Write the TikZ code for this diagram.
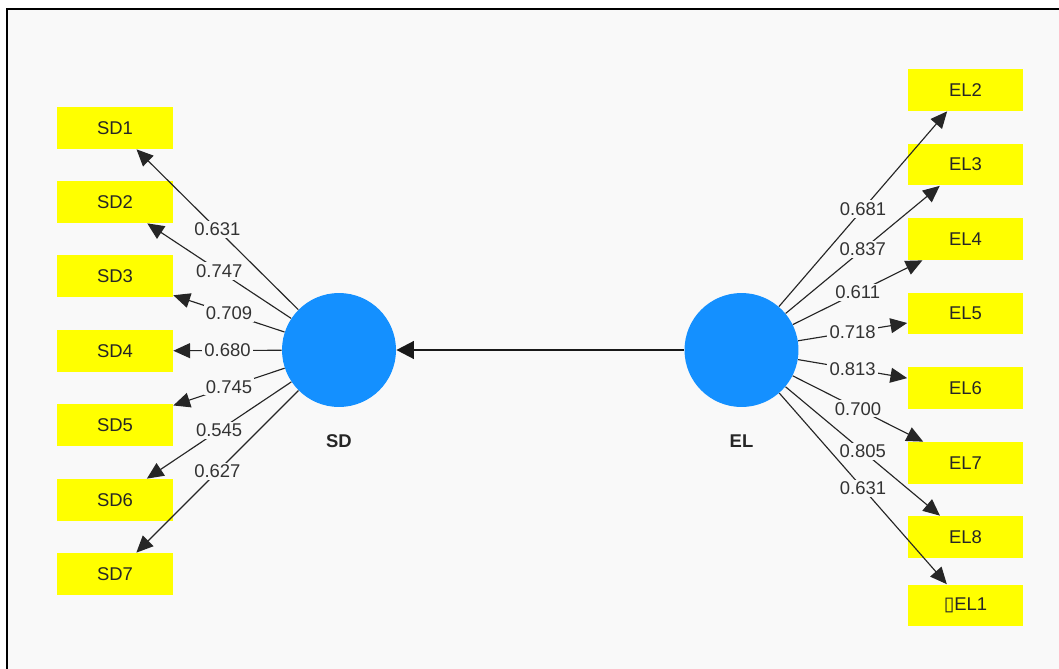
\documentclass[tikz,border=0pt]{standalone}
\usepackage{fontspec}
\setmainfont{Liberation Sans}
\newfontfamily\symbfont{DejaVu Sans}
\usetikzlibrary{arrows.meta}
\definecolor{canvas}{HTML}{F9F9F9}
\definecolor{lvblue}{HTML}{1490FF}
\definecolor{mvyellow}{HTML}{FFFF00}
\tikzset{
  indicator/.style={fill=mvyellow, minimum width=2.32cm, minimum height=0.84cm, inner sep=0pt,
    text=black!85, font=\fontsize{10.5}{12}\selectfont},
  latent/.style={circle, fill=lvblue, minimum size=2.28cm, inner sep=0pt},
  lvname/.style={font=\fontsize{10.5}{12}\selectfont\bfseries, text=black!85},
  loading/.style={-{Triangle[length=9.5pt,width=8.5pt]}, line width=0.65pt, black!85},
  weight/.style={midway, fill=canvas, inner sep=1.2pt, text=black!80,
    font=\fontsize{10.5}{12}\selectfont},
}
\begin{document}
\begin{tikzpicture}[x=0.02cm, y=-0.02cm]
\useasboundingbox (0,0) rectangle (1059,669);
% frame of the model window
\fill[canvas] (7,9) rectangle (1059,669);
\draw[line width=1.2pt] (7,669) -- (7,9) -- (1059,9);

% latent variables
\node[latent] (SD) at (339,350) {};
\node[latent] (EL) at (741.5,350) {};
\node[lvname] (SDname) at (339,441) {SD};
\node[lvname] (ELname) at (741.5,441) {EL};

% indicators
\foreach \i/\y in {1/128,2/202,3/276,4/351,5/425,6/500,7/574}
  \node[indicator] (SD\i) at (115,\y) {SD\i};
\foreach \i/\y in {2/90,3/164.5,4/239,5/313.5,6/388,7/463,8/537}
  \node[indicator] (EL\i) at (965.5,\y) {EL\i};
\node[indicator] (EL1) at (965.5,605.5) {{\symbfont\fontsize{11}{12}\selectfont ▯}EL1};

% outer loadings
\foreach \i/\w in {1/0.631,2/0.747,3/0.709,4/0.680,5/0.745,6/0.545,7/0.627}
  \draw[loading] (SD) -- (SD\i) node[weight] {\w};
\foreach \i/\w in {2/0.681,3/0.837,4/0.611,5/0.718,6/0.813,7/0.700,8/0.805,1/0.631}
  \draw[loading] (EL) -- (EL\i) node[weight] {\w};

% path
\draw[-{Triangle[length=10pt,width=10pt]}, line width=1.4pt, black!90] (EL) -- (SD);
\end{tikzpicture}
\end{document}
